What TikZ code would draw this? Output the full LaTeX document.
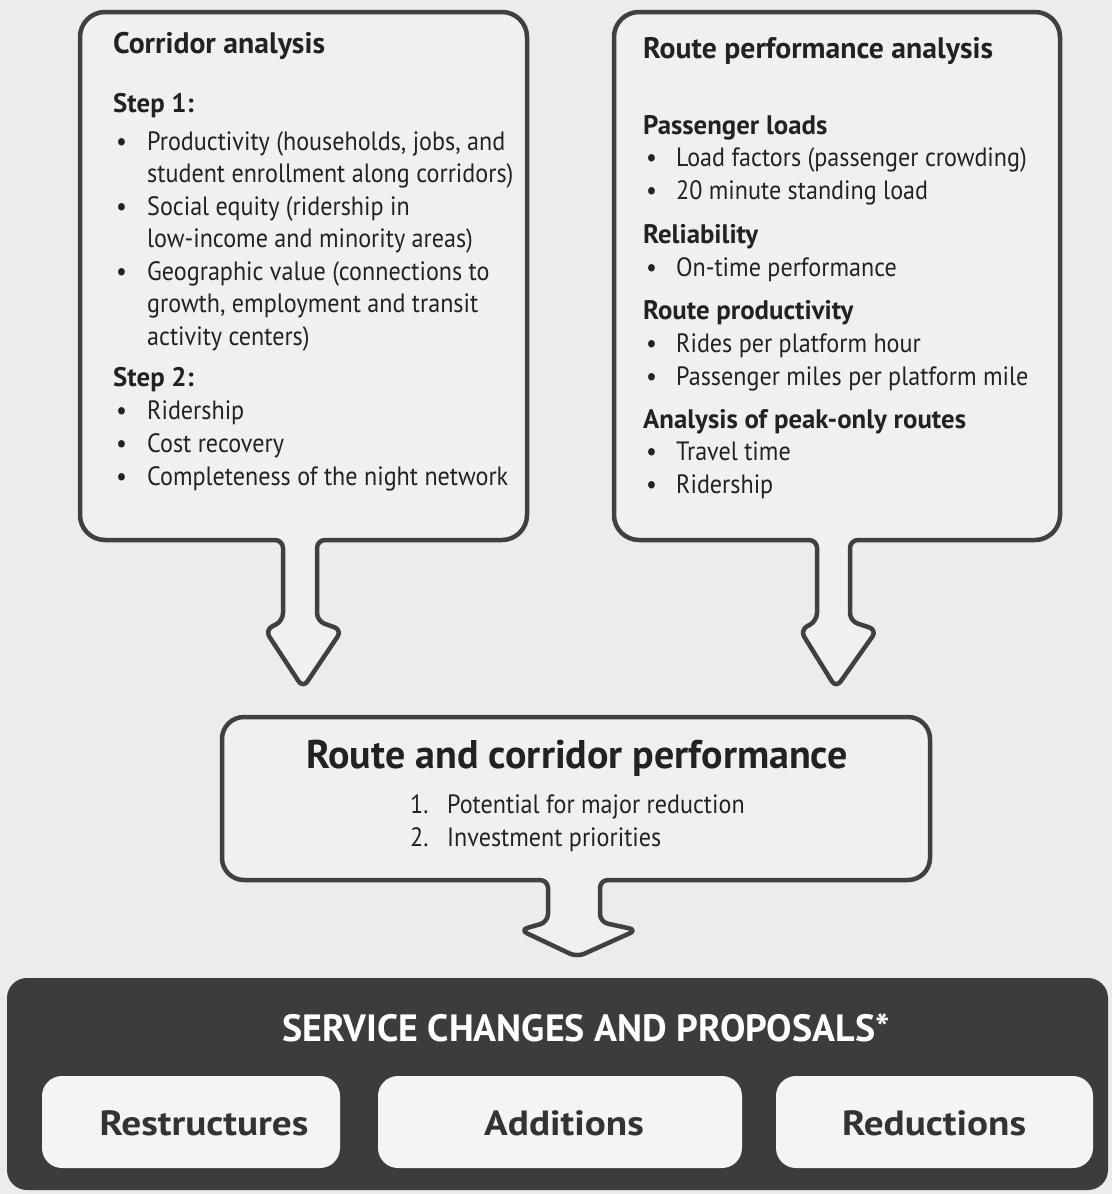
\documentclass[tikz,border=0pt]{standalone}
\usepackage{fontspec}
\setmainfont{PT Sans}[FakeStretch=0.91, BoldFeatures={FakeStretch=1.0}]
\newfontfamily\btnfont{PT Sans}[FakeStretch=1.12]
\definecolor{paper}{HTML}{ECECEC}
\definecolor{boxfill}{HTML}{F0F0F0}
\definecolor{boxline}{HTML}{404040}
\definecolor{ink}{HTML}{222222}
\definecolor{dark}{HTML}{3C3C3C}
\definecolor{btnfill}{HTML}{F4F4F4}
\tikzset{
  outline/.style={draw=boxline, line width=4.5pt, fill=boxfill, line join=round},
  txt/.style={anchor=base west, inner sep=0pt, text=ink, font=\fontsize{26.5}{30}\selectfont},
  hd/.style={txt, font=\fontsize{26.8}{30}\selectfont\bfseries},
  ttl/.style={txt, font=\fontsize{29.7}{34}\selectfont\bfseries},
  bul/.style={anchor=base west, inner sep=0pt, text=ink, font=\fontsize{26.5}{30}\selectfont},
  btn/.style={fill=btnfill, rounded corners=20pt},
  btntext/.style={anchor=base, inner sep=0pt, text=dark!85!black, font=\btnfont\fontsize{35}{40}\selectfont\bfseries},
}
\begin{document}
\begin{tikzpicture}[x=1pt,y=-1pt]
\useasboundingbox (0,0) rectangle (1112,1194);
\fill[paper] (0,0) rectangle (1112,1194);

% left box with arrow
\draw[outline, rounded corners=25pt] (300,12) -- (527,12) -- (527,540) -- (420,540)
  [rounded corners=8pt] -- (317,540) -- (317,621) -- (342,630) -- (303,688) -- (265,630) -- (283,621) -- (283,540) -- (200,540)
  [rounded corners=25pt] -- (80,540) -- (80,12) -- cycle;

% right box with arrow
\draw[outline, rounded corners=25pt] (800,12) -- (1060,12) -- (1060,540) -- (950,540)
  [rounded corners=8pt] -- (850,540) -- (850,621) -- (877,630) -- (836,688) -- (800,630) -- (817,621) -- (817,540) -- (720,540)
  [rounded corners=25pt] -- (614,540) -- (614,12) -- cycle;

% middle box with arrow
\draw[outline, rounded corners=22pt] (600,717) -- (930,717) -- (930,880) -- (800,880)
  [rounded corners=8pt] -- (600,880) -- (600,922) -- (637,930) -- (577,957) -- (520,930) -- (548,922) -- (548,880) -- (400,880)
  [rounded corners=22pt] -- (222,880) -- (222,717) -- cycle;

% bottom dark panel
\fill[dark, rounded corners=20pt] (7,978) rectangle (1108,1190);

% left box text
\node[ttl] (lt) at (113,53) {Corridor analysis};
\node[hd] (ls1) at (113,112) {Step 1:};
\node[bul] (lb1) at (116,150) {\textbullet};
\node[txt] (l1a) at (147,150) {Productivity (households, jobs, and};
\node[txt] (l1b) at (147,182) {student enrollment along corridors)};
\node[bul] (lb2) at (116,215) {\textbullet};
\node[txt] (l2a) at (147,215) {Social equity (ridership in};
\node[txt] (l2b) at (147,247) {low-income and minority areas)};
\node[bul] (lb3) at (116,280) {\textbullet};
\node[txt] (l3a) at (147,280) {Geographic value (connections to};
\node[txt] (l3b) at (147,312) {growth, employment and transit};
\node[txt] (l3c) at (147,345) {activity centers)};
\node[hd] (ls2) at (113,386) {Step 2:};
\node[bul] (lb4) at (116,419) {\textbullet};
\node[txt] (l4) at (147,419) {Ridership};
\node[bul] (lb5) at (116,452) {\textbullet};
\node[txt] (l5) at (147,452) {Cost recovery};
\node[bul] (lb6) at (116,485) {\textbullet};
\node[txt] (l6) at (147,485) {Completeness of the night network};

% right box text
\node[ttl] (rt) at (643,58) {Route performance analysis};
\node[hd] (rh1) at (643,134) {Passenger loads};
\node[bul] (rb1) at (646,166) {\textbullet};
\node[txt] (r1) at (676,166) {Load factors (passenger crowding)};
\node[bul] (rb2) at (646,199) {\textbullet};
\node[txt] (r2) at (676,199) {20 minute standing load};
\node[hd] (rh2) at (643,243) {Reliability};
\node[bul] (rb3) at (646,276) {\textbullet};
\node[txt] (r3) at (676,276) {On-time performance};
\node[hd] (rh3) at (643,319) {Route productivity};
\node[bul] (rb4) at (646,352) {\textbullet};
\node[txt] (r4) at (676,352) {Rides per platform hour};
\node[bul] (rb5) at (646,385) {\textbullet};
\node[txt] (r5) at (676,385) {Passenger miles per platform mile};
\node[hd] (rh4) at (643,428) {Analysis of peak-only routes};
\node[bul] (rb6) at (646,460) {\textbullet};
\node[txt] (r6) at (676,460) {Travel time};
\node[bul] (rb7) at (646,493) {\textbullet};
\node[txt] (r7) at (676,493) {Ridership};

% middle box text
\node[anchor=base, inner sep=0pt, text=ink, font=\fontsize{40}{44}\selectfont\bfseries] (mt) at (577,768) {Route and corridor performance};
\node[txt] (mn1) at (410,813) {1.};
\node[txt] (m1) at (447,813) {Potential for major reduction};
\node[txt] (mn2) at (410,846) {2.};
\node[txt] (m2) at (447,846) {Investment priorities};

% bottom panel text and buttons
\node[anchor=base, inner sep=0pt, text=white, font=\fontsize{38}{44}\selectfont\bfseries] (st) at (586,1041) {SERVICE CHANGES AND PROPOSALS*};
\fill[btn] (42,1076) rectangle (340,1168);
\fill[btn] (378,1076) rectangle (742,1168);
\fill[btn] (776,1076) rectangle (1093,1168);
\node[btntext] (b1) at (204,1135) {Restructures};
\node[btntext] (b2) at (564,1135) {Additions};
\node[btntext] (b3) at (934,1135) {Reductions};
\end{tikzpicture}
\end{document}
